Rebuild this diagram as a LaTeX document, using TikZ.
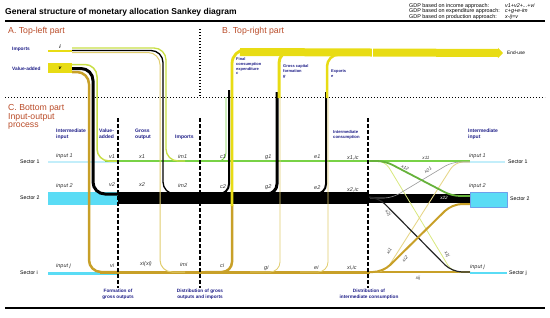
\documentclass[tikz,border=0pt]{standalone}
\usepackage{fontspec}
\setmainfont{Liberation Sans}
\usetikzlibrary{arrows.meta}
\definecolor{navy}{RGB}{30,30,135}
\definecolor{partc}{RGB}{185,75,40}
\definecolor{yband}{RGB}{232,220,20}
\definecolor{ygreen}{RGB}{200,222,70}
\definecolor{sgreen}{RGB}{120,210,70}
\definecolor{gold}{RGB}{200,160,40}
\definecolor{lgold}{RGB}{225,205,110}
\definecolor{cyanb}{RGB}{90,220,245}
\definecolor{pcyan}{RGB}{195,238,250}
\definecolor{cedge}{RGB}{110,160,235}
\tikzset{
  titlef/.style={font=\fontsize{8.5}{9}\selectfont\bfseries, inner sep=0, anchor=west},
  gdp/.style={font=\fontsize{5.4}{5.7}\selectfont, inner sep=0, anchor=north west, align=left},
  part/.style={font=\fontsize{8.7}{8.8}\selectfont, text=partc, inner sep=0, anchor=north west, align=left},
  hdr/.style={font=\fontsize{5}{5.6}\selectfont\bfseries, text=navy, align=left, inner sep=0, anchor=north west},
  hdrs/.style={font=\fontsize{4.2}{5}\selectfont\bfseries, text=navy, align=left, inner sep=0, anchor=north west},
  tiny/.style={font=\fontsize{4}{4.7}\selectfont\bfseries, text=navy, align=left, inner sep=0, anchor=north west},
  botl/.style={font=\fontsize{4.7}{5.8}\selectfont\bfseries, text=navy, align=center, inner sep=0, anchor=north},
  rl/.style={font=\fontsize{5.5}{6}\selectfont\itshape, text=black!80, inner sep=0, anchor=west},
  xl/.style={font=\fontsize{4.6}{6}\selectfont\itshape, text=black!80, inner sep=0},
  sec/.style={font=\fontsize{5.2}{6}\selectfont, inner sep=0, anchor=west},
  tl/.style={font=\fontsize{4.8}{5.5}\selectfont\bfseries, text=navy, inner sep=0, anchor=west},
  dashv/.style={line width=1.6pt, dash pattern=on 4pt off 2pt},
  dotl/.style={line width=1.4pt, dash pattern=on 1.3pt off 1.7pt},
}
\begin{document}
\begin{tikzpicture}[x=1pt,y=-1pt,line join=round]
\useasboundingbox (0,0) rectangle (550,317);

% ---------- title and rules
\node[titlef] (title) at (5,12.5) {General structure of monetary allocation Sankey diagram};
\node[gdp] (gdp) at (409,3) {GDP based on income approach:\\GDP based on expenditure approach:\\GDP based on production approach:};
\node[gdp, font=\fontsize{5.4}{5.7}\selectfont\itshape] (gdpf) at (505,3) {v1+v2+...+vi\\c+g+e-im\\x-ij=v};
\coordinate (rL) at (5,21); \coordinate (rR) at (545,21);
\draw[line width=1.5pt] (rL) -- (rR);
\coordinate (bL) at (5,308); \coordinate (bR) at (545,308);
\draw[line width=2pt] (bL) -- (bR);
\coordinate (dL) at (5,97.5); \coordinate (dR) at (545,97.5);
\draw[dotl] (dL) -- (dR);
\coordinate (vT) at (200,29); \coordinate (vB) at (200,96);
\draw[dotl] (vT) -- (vB);

\node[part] (pA) at (8,27) {A. Top-left part};
\node[part] (pB) at (222,27) {B. Top-right part};
\node[part] (pC) at (8,104) {C. Bottom part\\Input-output\\process};

% ---------- top-left boxes
\node[tl] (limp) at (12,49) {Imports};
\node[tl] (lva) at (12,69) {Value-added};
\node[font=\fontsize{5}{6}\selectfont\bfseries\itshape, inner sep=0] (ibox) at (60,47) {i};
\coordinate (iL) at (48,51); \coordinate (iR) at (72,51);
\draw[yband, line width=1.2pt] (iL) -- (iR);
\node[fill=yband, minimum width=24pt, minimum height=10pt, inner sep=0,
      font=\fontsize{5}{6}\selectfont\bfseries\itshape] (vbox) at (60,68) {v};

% ---------- left cyan
\draw[pcyan, line width=2pt] (48,162) -- (118,162);
\fill[cyanb] (48,192) rectangle (118,205);
\draw[cyanb, line width=3pt] (48,273) -- (118,273);

% ---------- trunks
\draw[sgreen, line width=1.5pt] (105,161) -- (370,161);
\draw[line width=12pt] (118,198) -- (368,198);
\draw[gold, line width=3pt] (100,272) -- (370,272);

% ---------- value-added bundle
\draw[ygreen, line width=1.5pt, rounded corners=12pt] (vbox.east |- 0,64.5) -| (97,161) -- (118,161);
\draw[black, line width=3pt, rounded corners=12pt] (vbox.east |- 0,68.5) -| (93,194) -- (122,194);
\draw[gold, line width=2.5pt, rounded corners=12pt] (vbox.east |- 0,72) -| (89,272) -- (118,272);

% ---------- imports bundle
\draw[ygreen, line width=1.3pt, rounded corners=12pt] (iR |- 0,48) -| (166,161) -- (185,161);
\draw[black, line width=1.3pt, rounded corners=12pt] (iR |- 0,50.5) -| (163,194) -- (185,194);
\draw[lgold, line width=1pt, rounded corners=12pt] (iR |- 0,52.5) -| (160,272) -- (185,272);

% ---------- final consumption c
\draw[sgreen, line width=0.8pt, rounded corners=8pt] (205,161) -| (226,97);
\draw[black, line width=2pt, rounded corners=10pt] (205,194) -| (229,90);
\draw[gold, line width=2.5pt, rounded corners=10pt] (205,272) -| (232,205);
\draw[yband, line width=2.8pt, rounded corners=14pt] (232,206) -- (232,49.5) -- (255,49.5);

% ---------- gross capital formation g
\draw[black, line width=3pt, rounded corners=10pt] (250,194) -| (277,92);
\draw[lgold, line width=0.8pt, rounded corners=10pt] (250,272) -| (280,97);
\draw[yband, line width=3pt, rounded corners=12pt] (279,98) -- (279,51) -- (300,51);

% ---------- exports e
\draw[black, line width=2pt, rounded corners=10pt] (300,194) -| (326,92);
\draw[lgold, line width=0.8pt, rounded corners=10pt] (300,272) -| (328,97);
\draw[yband, line width=2.5pt, rounded corners=12pt] (327,98) -- (327,54.5) -- (345,54.5);

% ---------- end-use band
\node[font=\fontsize{4.8}{5.5}\selectfont, inner sep=0, anchor=west] (enduse) at (507,53) {End-use};
\coordinate (bandL) at (240,52);
\draw[yband, line width=8pt, -{Triangle[length=5pt,width=10pt]}] (bandL) -- ([xshift=-4pt]enduse.west);
\draw[white, line width=0.7pt] (372,47.5) -- (372,56.5);
\node[tiny] (lc) at (236,57.5) {Final\\consumption\\expenditure\\\textit{c}};
\node[tiny] (lg) at (283,64.5) {Gross capital\\formation\\\textit{g}};
\node[tiny] (le) at (331,70) {Exports\\\textit{e}};

% ---------- crossing area
\draw[sgreen, line width=1.2pt] (368,161) -- (470,161);
\draw[line width=9pt] (368,198) -- (470,198);
\draw[gold, line width=2.2pt] (368,272) -- (470,272);
\draw[ygreen!70!white, line width=0.8pt, rounded corners=8pt] (370,161) -- (385,161) -- (452,272) -- (470,272);
\draw[lgold!80!white, line width=0.9pt, rounded corners=8pt] (370,272) -- (385,272) -- (455,162) -- (470,162);
\draw[black!40, line width=0.6pt, rounded corners=8pt] (370,198) -- (392,198) -- (452,162) -- (470,162);
\draw[sgreen!85!black, line width=1.8pt, rounded corners=8pt] (370,161) -- (385,161) -- (452,196) -- (470,196);
\draw[black!85, line width=1.2pt, rounded corners=10pt] (370,197) -- (378,197) -- (452,272) -- (470,272);
\draw[gold, line width=2pt, rounded corners=10pt] (370,272) -- (383,272) -- (452,204) -- (470,204);

% ---------- right cyan
\draw[pcyan, line width=2pt] (470,162) -- (505,162);
\filldraw[fill=cyanb, draw=cedge, line width=0.6pt] (470,192) rectangle (507,207);
\draw[cyanb, line width=2.5pt] (470,273) -- (507,273);

% ---------- dashed separators
\coordinate (s1T) at (118,118); \coordinate (s1B) at (118,288);
\coordinate (s2T) at (200,118); \coordinate (s2B) at (200,288);
\coordinate (s3T) at (368,118); \coordinate (s3B) at (368,288);
\draw[dashv] (s1T) -- (s1B);
\draw[dashv] (s2T) -- (s2B);
\draw[dashv] (s3T) -- (s3B);

% ---------- headers
\node[hdr] (h1) at (56,129) {Intermediate\\input};
\node[hdr] (h2) at (99,129) {Value-\\added};
\node[hdr] (h3) at (135,129) {Gross\\output};
\node[hdr] (h4) at (175,135) {Imports};
\node[hdrs] (h5) at (333,130) {Intermediate\\consumption};
\node[hdr] (h6) at (468,129) {Intermediate\\input};

\node[botl] (f1) at (118,289) {Formation of\\gross outputs};
\node[botl] (f2) at (200,289) {Distribution of gross\\outputs and imports};
\node[botl] (f3) at (369,289) {Distribution of\\intermediate consumption};

% ---------- sector labels
\node[sec] (sl1) at (20,162) {Sector 1};
\node[sec] (sl2) at (20,198) {Sector 2};
\node[sec] (sl3) at (20,273) {Sector i};
\node[sec] (sr1) at (508,162) {Sector 1};
\node[sec] (sr2) at (510,199) {Sector 2};
\node[sec] (sr3) at (509,273) {Sector j};

% ---------- row labels
\node[rl] (a1) at (56,156) {input 1};
\node[rl] (a2) at (109,157) {v1};
\node[rl] (a3) at (139,157) {x1};
\node[rl] (a4) at (178,157) {im1};
\node[rl] (a5) at (220,157) {c1};
\node[rl] (a6) at (265,157) {g1};
\node[rl] (a7) at (314,157) {e1};
\node[rl] (a8) at (347,158) {x1,ic};
\node[rl] (b1) at (56,186) {input 2};
\node[rl] (b2) at (109,185) {v2};
\node[rl] (b3) at (139,185) {x2};
\node[rl] (b4) at (178,186) {im2};
\node[rl] (b5) at (220,187) {c2};
\node[rl] (b6) at (265,187) {g2};
\node[rl] (b7) at (314,187.5) {e2};
\node[rl] (b8) at (347,190) {x2,ic};
\node[rl] (c1) at (56,266) {input j};
\node[rl] (c2) at (110,266) {vi};
\node[rl] (c3) at (140,264) {xi(xi)};
\node[rl] (c4) at (180,265) {imi};
\node[rl] (c5) at (220,266) {ci};
\node[rl] (c6) at (264,268) {gi};
\node[rl] (c7) at (314,268) {ei};
\node[rl] (c8) at (347,268) {xi,ic};
\node[rl] (d1) at (469,156) {input 1};
\node[rl] (d2) at (469,186) {input 2};
\node[rl] (d3) at (470,267) {input j};

% ---------- crossing labels
\node[xl] (k11) at (426,157.5) {x11};
\node[xl, rotate=-28] (k12) at (405,168) {x12};
\node[xl, rotate=30] (k21) at (428,170) {x21};
\node[xl, text=white] (k22) at (444,198) {x22};
\node[xl, rotate=-47] (k2j) at (388,213) {x2j};
\node[xl, rotate=57] (ki1) at (389,251) {xi1};
\node[xl, rotate=44] (ki2) at (405,259) {xi2};
\node[xl, rotate=-59] (k1j) at (447,254) {x1j};
\node[xl] (kij) at (418,278) {xij};
\end{tikzpicture}
\end{document}
